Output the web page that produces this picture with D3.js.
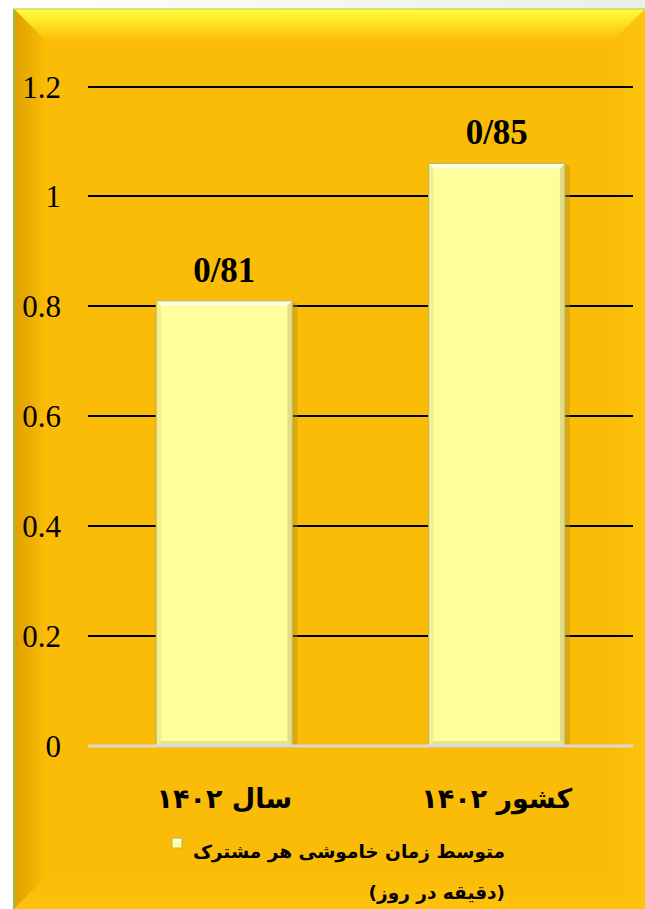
<!DOCTYPE html>
<html>
<head>
<meta charset="utf-8">
<script src="https://cdn.jsdelivr.net/npm/d3@7"></script>
<style>
html,body{margin:0;padding:0;background:#ffffff;}
svg{display:block;}
</style>
</head>
<body>
<svg id="chart" width="645" height="909"></svg>
<script>
const categories = ["سال ۱۴۰۲", "کشور ۱۴۰۲"];
const values = [0.81, 1.06];
const valueLabels = ["0/81", "0/85"];
const yTicks = [0, 0.2, 0.4, 0.6, 0.8, 1, 1.2];
const legendLines = ["متوسط زمان خاموشی هر مشترک", "(دقیقه در روز)"];

const W = 645, H = 909;
const svg = d3.select("#chart");
const defs = svg.append("defs");

// outside background
const bgG = defs.append("linearGradient").attr("id","bgOut").attr("x1",0).attr("y1",0).attr("x2",1).attr("y2",0);
bgG.append("stop").attr("offset",0).attr("stop-color","#ffffff");
bgG.append("stop").attr("offset",1).attr("stop-color","#e9efe8");
svg.append("rect").attr("width",W).attr("height",H).attr("fill","url(#bgOut)");

// panel
const px0 = 14, py0 = 9, px1 = W, py1 = H;
const main = "#fbbc07";
svg.append("rect").attr("x",px0).attr("y",py0).attr("width",px1-px0).attr("height",py1-py0).attr("fill",main);

function grad(id, x1,y1,x2,y2, c0, c1){
  const g = defs.append("linearGradient").attr("id",id).attr("x1",x1).attr("y1",y1).attr("x2",x2).attr("y2",y2);
  g.append("stop").attr("offset",0).attr("stop-color",c0);
  g.append("stop").attr("offset",1).attr("stop-color",c1);
}
grad("bvTop",0,0,0,1,"#ffff3c","#fbbc07");
grad("bvLeft",0,0,1,0,"#dfa000","#fbbc07");
grad("bvRight",1,0,0,0,"#fdc60e","#fbbc07");
grad("bvBot",0,1,0,0,"#fdc20c","#fbbc07");
const bw = 32;
svg.append("path").attr("d",`M${px0},${py0}L${px1},${py0}L${px1-bw},${py0+bw}L${px0+bw},${py0+bw}Z`).attr("fill","url(#bvTop)");
svg.append("path").attr("d",`M${px0},${py0}L${px0+bw},${py0+bw}L${px0+bw},${py1-bw}L${px0},${py1}Z`).attr("fill","url(#bvLeft)");
svg.append("path").attr("d",`M${px1},${py0}L${px1},${py1}L${px1-bw},${py1-bw}L${px1-bw},${py0+bw}Z`).attr("fill","url(#bvRight)").attr("opacity",0.9);
svg.append("path").attr("d",`M${px0},${py1}L${px0+bw},${py1-bw}L${px1-bw},${py1-bw}L${px1},${py1}Z`).attr("fill","url(#bvBot)");
svg.append("line").attr("x1",px0).attr("y1",py0).attr("x2",px0).attr("y2",H).attr("stroke","#9cbf4a").attr("stroke-width",2);
svg.append("line").attr("x1",px0).attr("y1",py0).attr("x2",W).attr("y2",py0).attr("stroke","#c8d96a").attr("stroke-width",1.5);

// scales
const plotL = 88, plotR = 633;
const y = d3.scaleLinear().domain([0,1.2]).range([746, 86.5]);
const x = d3.scaleBand().domain(categories).range([plotL, plotR]).paddingInner(0.5).paddingOuter(0.25);

// gridlines
svg.append("g").selectAll("line").data(yTicks.filter(d=>d>0)).join("line")
  .attr("x1",plotL).attr("x2",plotR)
  .attr("y1",d=>Math.round(y(d))).attr("y2",d=>Math.round(y(d)))
  .attr("stroke","#000").attr("stroke-width",2);

// y axis labels
const yAxis = d3.axisLeft(y).tickValues(yTicks).tickSize(0).tickPadding(0).tickFormat(d3.format("~g"));
const yg = svg.append("g").attr("transform","translate(61,0)").call(yAxis);
yg.select(".domain").remove();
yg.selectAll("text").attr("font-family","'Liberation Serif','Times New Roman',serif").attr("font-size",31).attr("fill","#000").attr("dy","0.34em");

// bars
const bevel = 5;
const bars = svg.append("g").selectAll("g").data(values).join("g");
bars.each(function(v,i){
  const g = d3.select(this);
  const bx = x(categories[i]), bwid = x.bandwidth(), by = y(v), bb = y(0);
  g.append("rect").attr("x",bx+2).attr("y",by+2).attr("width",bwid+3).attr("height",bb-by).attr("fill","#b08a10").attr("opacity",0.4);
  g.append("rect").attr("x",bx).attr("y",by).attr("width",bwid).attr("height",bb-by).attr("fill","#fefe9c");
  g.append("path").attr("d",`M${bx},${by}L${bx+bwid},${by}L${bx+bwid-bevel},${by+bevel}L${bx+bevel},${by+bevel}Z`).attr("fill","#ffffe2");
  g.append("path").attr("d",`M${bx},${by}L${bx+bevel},${by+bevel}L${bx+bevel},${bb-bevel}L${bx},${bb}Z`).attr("fill","#f4f08e");
  g.append("path").attr("d",`M${bx+bwid},${by}L${bx+bwid},${bb}L${bx+bwid-bevel},${bb-bevel}L${bx+bwid-bevel},${by+bevel}Z`).attr("fill","#e2dc82");
  g.append("path").attr("d",`M${bx},${bb}L${bx+bevel},${bb-bevel}L${bx+bwid-bevel},${bb-bevel}L${bx+bwid},${bb}Z`).attr("fill","#eae488");
  g.append("rect").attr("x",bx).attr("y",by).attr("width",bwid).attr("height",bb-by).attr("fill","none").attr("stroke","#b8b070").attr("stroke-width",1);
});

// zero line
svg.append("line").attr("x1",plotL).attr("x2",plotR).attr("y1",y(0)).attr("y2",y(0)).attr("stroke","#d9d9d9").attr("stroke-width",3);

// value labels
svg.append("g").selectAll("text").data(values).join("text")
  .attr("x",(d,i)=>x(categories[i])+x.bandwidth()/2)
  .attr("y",d=>y(d)-19)
  .attr("text-anchor","middle")
  .attr("font-family","'Liberation Serif','Times New Roman',serif")
  .attr("font-weight","bold").attr("font-size",35).attr("fill","#000")
  .text((d,i)=>valueLabels[i]);

// category labels
svg.append("g").selectAll("text").data(categories).join("text")
  .attr("x",d=>x(d)+x.bandwidth()/2)
  .attr("y",808)
  .attr("text-anchor","middle")
  .attr("font-family","'DejaVu Sans',sans-serif")
  .attr("font-weight","bold").attr("font-size",27).attr("fill","#000")
  .text(d=>d);

// legend
const lg = svg.append("g");
lg.append("rect").attr("x",172).attr("y",838).attr("width",10).attr("height",10).attr("fill","#fefe9c").attr("stroke","#b8b070").attr("stroke-width",1);
lg.append("rect").attr("x",173).attr("y",839).attr("width",8).attr("height",3).attr("fill","#ffffe2");
lg.selectAll("text").data(legendLines).join("text")
  .attr("x",505)
  .attr("y",(d,i)=>i===0?858:899)
  .attr("text-anchor","start")
  .attr("direction","rtl")
  .attr("font-family","'DejaVu Sans',sans-serif")
  .attr("font-weight","bold").attr("font-size",18.5).attr("fill","#000")
  .text(d=>d);
</script>
</body>
</html>
